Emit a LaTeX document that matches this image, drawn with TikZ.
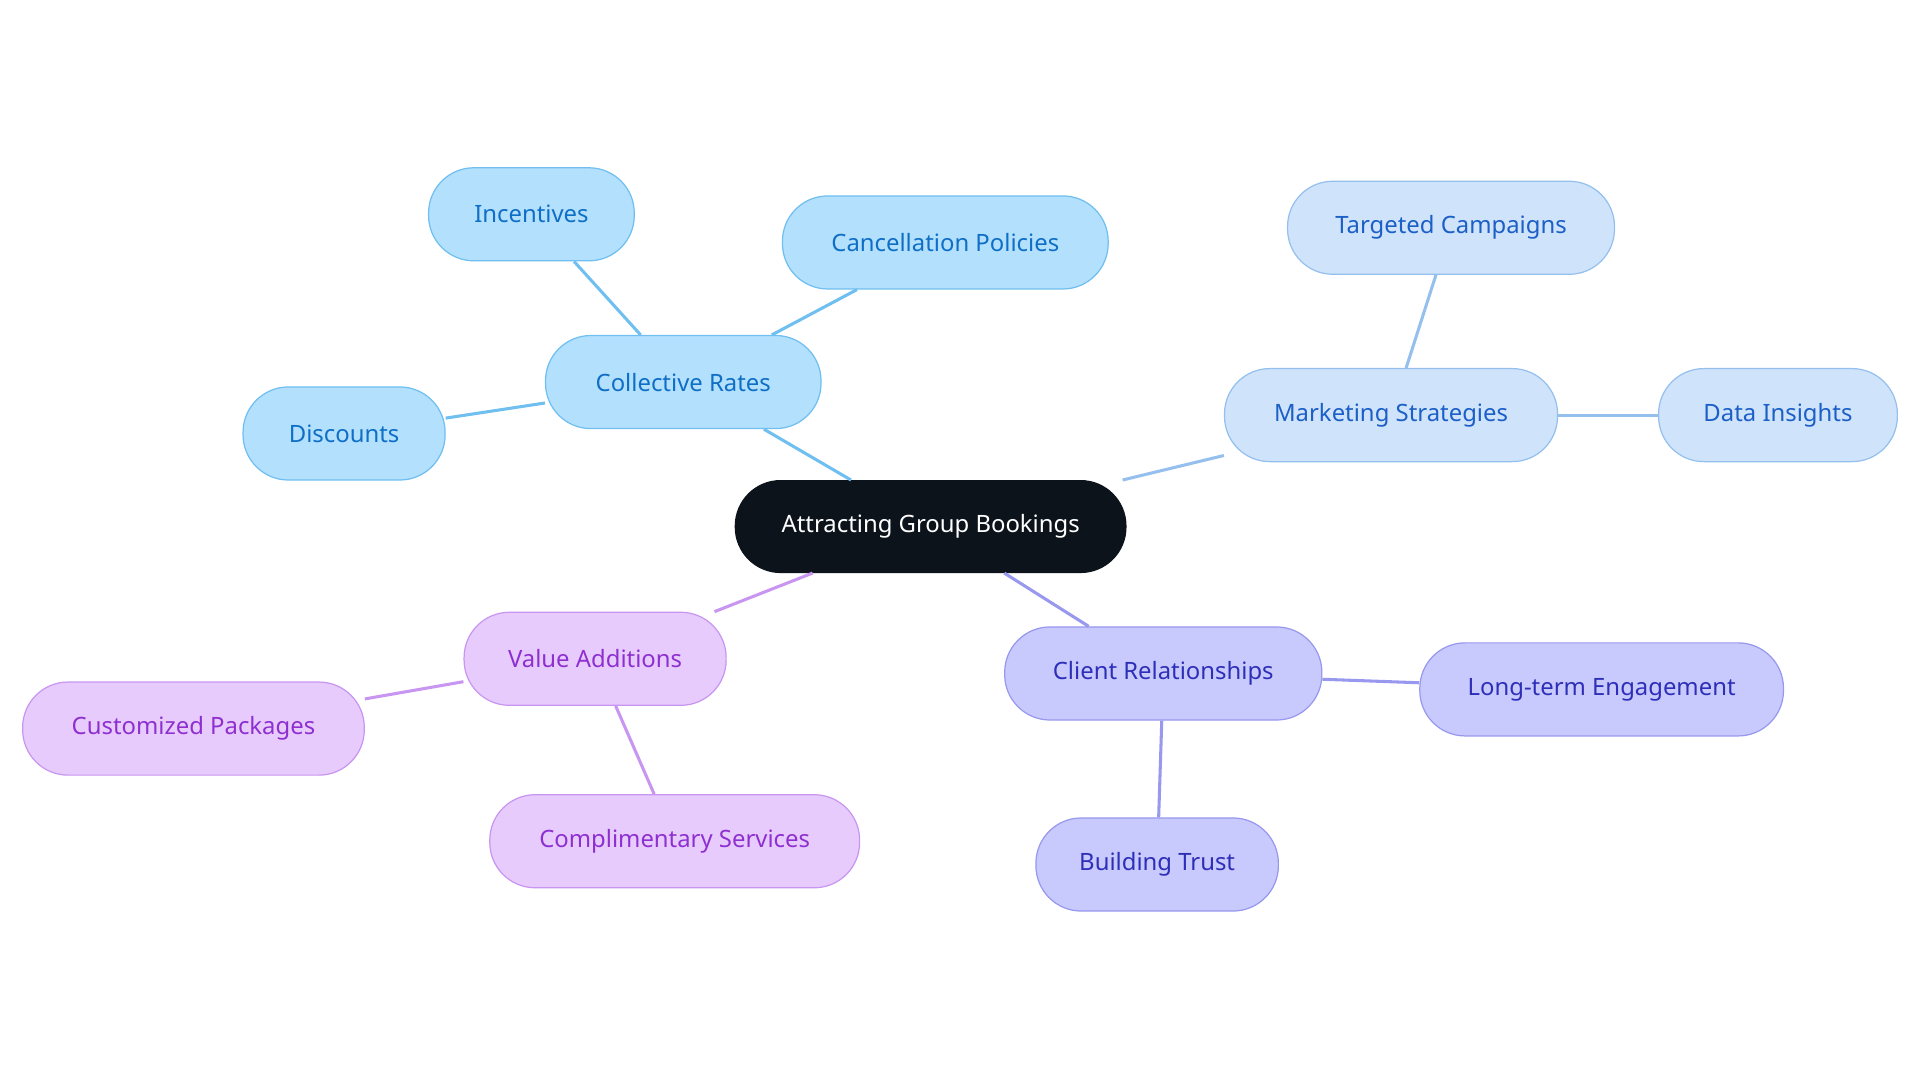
\documentclass[tikz,border=0pt]{standalone}
\usepackage{fontspec}
\setmainfont{Noto Sans}
\definecolor{bF}{HTML}{B3E0FD}\definecolor{bS}{HTML}{6FBFF0}\definecolor{bT}{HTML}{0F6FC6}
\definecolor{lF}{HTML}{CFE3FB}\definecolor{lS}{HTML}{95C0EE}\definecolor{lT}{HTML}{1B5FC7}
\definecolor{iF}{HTML}{C8CAFD}\definecolor{iS}{HTML}{9898EE}\definecolor{iT}{HTML}{2E2FB8}
\definecolor{pF}{HTML}{E8CBFD}\definecolor{pS}{HTML}{C896F0}\definecolor{pT}{HTML}{8E30D0}
\definecolor{rF}{HTML}{0D131B}
\tikzset{
 n/.style={rounded corners=37pt,minimum height=76pt,inner sep=0pt,line width=1pt,font=\fontsize{19.5}{22}\selectfont},
 B/.style={n,fill=bF,draw=bS,text=bT},
 L/.style={n,fill=lF,draw=lS,text=lT},
 I/.style={n,fill=iF,draw=iS,text=iT},
 P/.style={n,fill=pF,draw=pS,text=pT},
 e/.style={line width=2.5pt}
}
\begin{document}
\begin{tikzpicture}[x=1pt,y=-1pt]
\useasboundingbox (0,0) rectangle (1568,884.4);
\node[n,fill=rF,draw=rF,text=white,minimum width=319pt,minimum height=75pt] (r) at (760,430) {Attracting Group Bookings};
\node[B,minimum width=225pt] (cr) at (558,312) {Collective Rates};
\node[B,minimum width=168pt] (in) at (434,175) {Incentives};
\node[B,minimum width=266pt] (cp) at (772,198) {Cancellation Policies};
\node[B,minimum width=165pt] (di) at (281,354) {Discounts};
\node[L,minimum width=272pt] (ms) at (1136,339) {Marketing Strategies};
\node[L,minimum width=267pt] (tc) at (1185,186) {Targeted Campaigns};
\node[L,minimum width=195pt] (da) at (1452,339) {Data Insights};
\node[I,minimum width=259pt] (cl) at (950,550) {Client Relationships};
\node[I,minimum width=297pt] (lt) at (1308,563) {Long-term Engagement};
\node[I,minimum width=198pt] (bt) at (945,706) {Building Trust};
\node[P,minimum width=214pt] (va) at (486,538) {Value Additions};
\node[P,minimum width=279pt] (cu) at (158,595) {Customized Packages};
\node[P,minimum width=302pt] (cs) at (551,687) {Complimentary Services};
\begin{scope}[on background layer/.style={}]
\end{scope}
\begin{pgfonlayer}{main}\end{pgfonlayer}
\draw[e,bS] (r) -- (cr); \draw[e,bS] (cr) -- (in); \draw[e,bS] (cr) -- (cp); \draw[e,bS] (cr) -- (di);
\draw[e,lS] (r) -- (ms); \draw[e,lS] (ms) -- (tc); \draw[e,lS] (ms) -- (da);
\draw[e,iS] (r) -- (cl); \draw[e,iS] (cl) -- (lt); \draw[e,iS] (cl) -- (bt);
\draw[e,pS] (r) -- (va); \draw[e,pS] (va) -- (cu); \draw[e,pS] (va) -- (cs);
\end{tikzpicture}
\end{document}
